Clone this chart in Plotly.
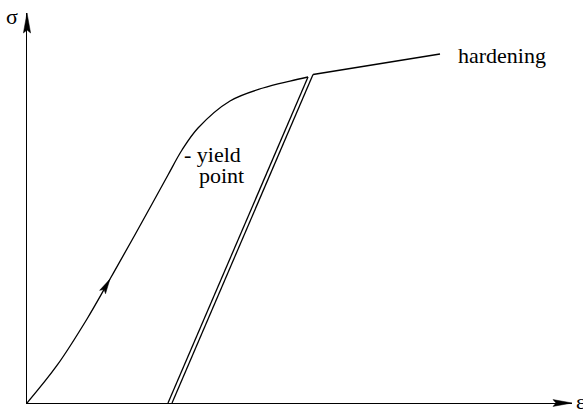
import plotly.graph_objects as go
import math

# ---- data (strain / stress in arbitrary units) ----
loading_strain = [0.0, 5.50, 11.01, 15.23, 19.27, 22.94, 25.87, 28.44, 31.38, 37.25, 43.30, 48.26, 51.56]
loading_stress = [0.0, 9.62, 21.54, 31.79, 41.79, 51.03, 58.46, 64.87, 70.51, 77.44, 80.77, 82.56, 83.59]
unload_outer_strain = [51.56, 25.87]
unload_outer_stress = [83.59, 0.0]
unload_inner_strain = [26.61, 52.48]
unload_inner_stress = [0.0, 84.23]
hardening_strain = [52.48, 75.78]
hardening_stress = [84.23, 89.49]
arrow_index = 3   # loading-curve point where the direction arrow tip sits

# ---- layout geometry ----
W, H = 583, 409
ML, MR, MT, MB = 27, 11, 13, 6
PW, PH = W - ML - MR, H - MT - MB
XR = [0, 100]
YR = [0, 100]

def d2p(x, y):
    return (ML + (x - XR[0]) / (XR[1] - XR[0]) * PW,
            MT + PH - (y - YR[0]) / (YR[1] - YR[0]) * PH)

def p2paper(px, py):
    return ((px - ML) / PW, (MT + PH - py) / PH)

def arrow_path(tip, direction, length, half, notch):
    tx, ty = tip
    dx, dy = direction
    n = math.hypot(dx, dy)
    dx, dy = dx / n, dy / n
    nx, ny = -dy, dx
    bx, by = tx - dx * length, ty - dy * length
    cx, cy = tx - dx * (length - notch), ty - dy * (length - notch)
    pts = [(tx, ty), (bx + nx * half, by + ny * half), (cx, cy), (bx - nx * half, by - ny * half)]
    pts = [p2paper(*p) for p in pts]
    return "M " + " L ".join(f"{a:.5f},{b:.5f}" for a, b in pts) + " Z"

line = dict(color="black", width=1.3)
fig = go.Figure()
fig.add_trace(go.Scatter(x=loading_strain, y=loading_stress, mode="lines",
                         line=dict(color="black", width=1.3, shape="spline", smoothing=1.0),
                         hoverinfo="skip"))
for xs, ys in [(unload_outer_strain, unload_outer_stress),
               (unload_inner_strain, unload_inner_stress),
               (hardening_strain, hardening_stress)]:
    fig.add_trace(go.Scatter(x=xs, y=ys, mode="lines", line=line, hoverinfo="skip"))

shapes = []
# axis arrowheads
shapes.append(dict(type="path", xref="paper", yref="paper",
                   path=arrow_path((ML, MT), (0, -1), 20, 3.6, 3),
                   fillcolor="black", line=dict(color="black", width=0.5)))
shapes.append(dict(type="path", xref="paper", yref="paper",
                   path=arrow_path((ML + PW, MT + PH), (1, 0), 19, 3.4, 3),
                   fillcolor="black", line=dict(color="black", width=0.5)))
# arrow along the loading curve
tip = d2p(loading_strain[arrow_index], loading_stress[arrow_index])
pa = d2p(loading_strain[arrow_index - 1], loading_stress[arrow_index - 1])
pb = d2p(loading_strain[arrow_index + 1], loading_stress[arrow_index + 1])
shapes.append(dict(type="path", xref="paper", yref="paper",
                   path=arrow_path(tip, (pb[0] - pa[0], pb[1] - pa[1]), 15, 3.4, 3),
                   fillcolor="black", line=dict(color="black", width=0.5)))

font = dict(family="Liberation Serif, DejaVu Serif, serif", size=22, color="black")
annotations = [
    dict(xref="paper", yref="paper", x=-0.0275, y=0.992, text="σ", showarrow=False,
         xanchor="center", yanchor="middle", font=font),
    dict(xref="paper", yref="paper", x=1.0147, y=0.004, text="ε", showarrow=False,
         xanchor="center", yanchor="middle", font=font),
    dict(x=78.8, y=89.0, text="hardening", showarrow=False, xanchor="left", yanchor="middle", font=font),
    dict(x=28.4, y=63.6, text="- yield", showarrow=False, xanchor="left", yanchor="middle", font=font),
    dict(x=31.2, y=58.4, text="point", showarrow=False, xanchor="left", yanchor="middle", font=font),
]

axis = dict(showgrid=False, zeroline=False, showticklabels=False, ticks="",
            showline=True, linecolor="black", linewidth=1.3, fixedrange=True)
fig.update_layout(
    width=W, height=H, margin=dict(l=ML, r=MR, t=MT, b=MB, pad=0),
    paper_bgcolor="white", plot_bgcolor="white", showlegend=False,
    xaxis=dict(range=XR, **axis), yaxis=dict(range=YR, **axis),
    shapes=shapes, annotations=annotations,
)
fig.write_html("out.html", config={"displayModeBar": False},
               post_script="document.body.style.margin='0';document.body.style.overflow='hidden';")
